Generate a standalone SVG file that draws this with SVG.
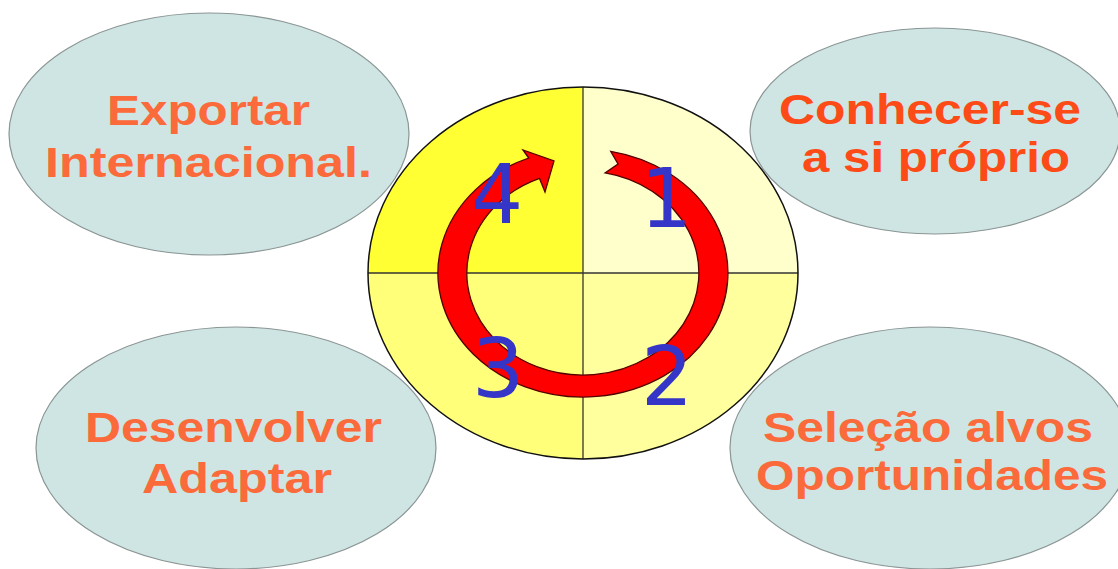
<svg xmlns="http://www.w3.org/2000/svg" width="1118" height="569" viewBox="0 0 1118 569">
<style>
.bub{fill:#cfe5e3;stroke:#8a9594;stroke-width:1.2}
.lbl{font-family:"Liberation Sans",Arial,sans-serif;font-weight:bold;font-size:42px;text-anchor:middle;fill:#fb6a3b}
.lbl2{fill:#fd4b17}
.num{font-family:"DejaVu Sans",sans-serif;font-size:82px;text-anchor:middle;fill:#3535c8}
</style>
<rect width="1118" height="569" fill="#ffffff"/>
<g id="n-exportar">
<ellipse class="bub" cx="209" cy="134" rx="200" ry="121"/>
<text class="lbl" x="208.5" y="125" textLength="203" lengthAdjust="spacingAndGlyphs">Exportar</text>
<text class="lbl" x="208.5" y="177" textLength="327" lengthAdjust="spacingAndGlyphs">Internacional.</text>
</g>
<g id="n-conhecer">
<ellipse class="bub" cx="935" cy="131" rx="185" ry="103"/>
<text class="lbl lbl2" x="930" y="124" textLength="302" lengthAdjust="spacingAndGlyphs">Conhecer-se</text>
<text class="lbl lbl2" x="936" y="172" textLength="268" lengthAdjust="spacingAndGlyphs">a si próprio</text>
</g>
<g id="n-desenvolver">
<ellipse class="bub" cx="236" cy="448" rx="200" ry="121"/>
<text class="lbl" x="233.5" y="442" textLength="297" lengthAdjust="spacingAndGlyphs">Desenvolver</text>
<text class="lbl" x="237" y="493" textLength="190" lengthAdjust="spacingAndGlyphs">Adaptar</text>
</g>
<g id="n-selecao">
<ellipse class="bub" cx="930" cy="448" rx="200" ry="121"/>
<text class="lbl" x="928" y="442" textLength="330" lengthAdjust="spacingAndGlyphs">Seleção alvos</text>
<text class="lbl" x="932" y="490" textLength="352" lengthAdjust="spacingAndGlyphs">Oportunidades</text>
</g>
<g id="n-cycle">
<path d="M583 273 L583 87 A215 186 0 0 0 368 273 Z" fill="#ffff33"/>
<path d="M583 273 L583 87 A215 186 0 0 1 798 273 Z" fill="#ffffcc"/>
<path d="M583 273 L368 273 A215 186 0 0 0 583 459 Z" fill="#ffff7a"/>
<path d="M583 273 L798 273 A215 186 0 0 1 583 459 Z" fill="#ffff9e"/>
<line x1="368" y1="273" x2="798" y2="273" stroke="#333" stroke-width="1.3"/>
<line x1="583" y1="87" x2="583" y2="459" stroke="#333" stroke-width="1.3"/>
<ellipse cx="583" cy="273" rx="215" ry="186" fill="none" stroke="#111" stroke-width="1.5"/>
<path d="M610.7 151.3 A145 124 0 1 1 528.7 158 L523 150 L554 161 L545 192 L539.5 178.4 A116 102 0 1 0 605.1 172.9 L618 164 Z" fill="#ff0000" stroke="#550000" stroke-width="1.3" stroke-linejoin="miter"/>
<text class="num" x="497" y="223">4</text>
<text class="num" x="666" y="227">1</text>
<text class="num" x="667" y="405">2</text>
<text class="num" x="498" y="397">3</text>
</g>
<g id="connectors"/>
</svg>
